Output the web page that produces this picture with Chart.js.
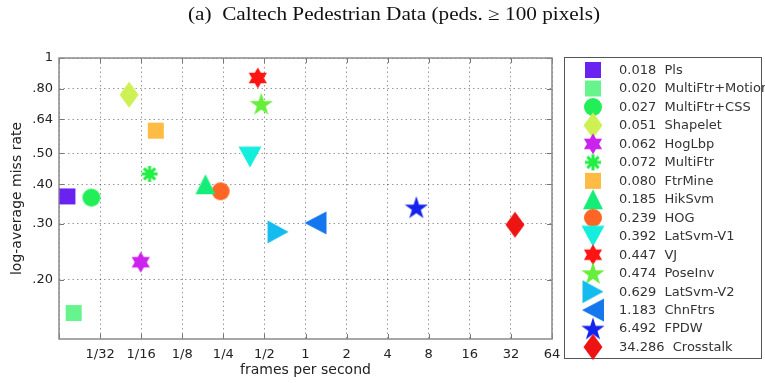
<!DOCTYPE html>
<html>
<head>
<meta charset="utf-8">
<script src="https://cdn.jsdelivr.net/npm/chart.js@4/dist/chart.umd.min.js"></script>
<style>
  html, body { margin: 0; padding: 0; background: #fff; }
</style>
</head>
<body>
<canvas id="myChart" width="765" height="383"></canvas>
<script>
// one entry per detector: name, speed (frames per second), log-average miss rate
const methods = ['Pls', 'MultiFtr+Motion', 'MultiFtr+CSS', 'Shapelet', 'HogLbp', 'MultiFtr',
    'FtrMine', 'HikSvm', 'HOG', 'LatSvm-V1', 'VJ', 'PoseInv', 'LatSvm-V2', 'ChnFtrs', 'FPDW', 'Crosstalk'];
const fps = [0.018, 0.020, 0.027, 0.051, 0.062, 0.072, 0.080, 0.185, 0.239, 0.392, 0.447, 0.474,
    0.629, 1.183, 6.492, 34.286];
const missRates = [0.366, 0.157, 0.363, 0.766, 0.227, 0.431, 0.59, 0.40, 0.38, 0.487, 0.865, 0.717,
    0.283, 0.302, 0.338, 0.298];
const markerShapes = ['square', 'square', 'circle', 'diamond', 'hexagram', 'asterisk', 'square', 'triUp',
    'circle', 'triDown', 'hexagram', 'pentagram', 'triRight', 'triLeft', 'pentagram', 'diamond'];
const markerColors = ['#6a22f0', '#66f58c', '#22ee58', '#cdf052', '#cc22ee', '#22ee44', '#ffbb44', '#14ee78',
    '#ff6626', '#14eedc', '#ff1414', '#66ee3a', '#14bbee', '#1477ee', '#1422ee', '#ee1414'];

const xTicks = [1/64, 1/32, 1/16, 1/8, 1/4, 1/2, 1, 2, 4, 8, 16, 32, 64];
const xTickLabels = ['', '1/32', '1/16', '1/8', '1/4', '1/2', '1', '2', '4', '8', '16', '32', '64'];
const yTicks = [0.2, 0.3, 0.4, 0.5, 0.64, 0.8, 1];
const yTickLabels = ['.20', '.30', '.40', '.50', '.64', '.80', '1'];

function starPath(g, points, outer, inner) {
    for (let k = 0; k < points * 2; k++) {
        const r = k % 2 === 0 ? outer : inner;
        const a = -Math.PI / 2 + k * Math.PI / points;
        const px = r * Math.cos(a), py = r * Math.sin(a);
        if (k === 0) g.moveTo(px, py); else g.lineTo(px, py);
    }
    g.closePath();
}

function makeMarker(shape, color) {
    const c = document.createElement('canvas');
    c.width = 30;
    c.height = 30;
    const g = c.getContext('2d');
    g.fillStyle = color;
    g.strokeStyle = color;
    g.translate(15, 15);
    g.beginPath();
    switch (shape) {
        case 'square': g.rect(-8, -8, 16, 16); break;
        case 'circle': g.arc(0, 0, 9, 0, Math.PI * 2); break;
        case 'diamond':
            g.moveTo(0, -13); g.lineTo(9.5, 0); g.lineTo(0, 13); g.lineTo(-9.5, 0); g.closePath(); break;
        case 'triUp':
            g.moveTo(0, -10); g.lineTo(10, 10); g.lineTo(-10, 10); g.closePath(); break;
        case 'triDown':
            g.moveTo(-11.5, -10.5); g.lineTo(11.5, -10.5); g.lineTo(0, 10.5); g.closePath(); break;
        case 'triRight':
            g.moveTo(-10.5, -11.5); g.lineTo(10.5, 0); g.lineTo(-10.5, 11.5); g.closePath(); break;
        case 'triLeft':
            g.moveTo(11, -11.5); g.lineTo(-11, 0); g.lineTo(11, 11.5); g.closePath(); break;
        case 'pentagram':
            g.translate(0, 1); starPath(g, 5, 12.2, 12.2 * 0.382); break;
        case 'hexagram':
            starPath(g, 6, 10.5, 10.5 / Math.sqrt(3)); break;
        case 'asterisk':
            g.lineWidth = 3;
            for (let k = 0; k < 4; k++) {
                const a = k * Math.PI / 4;
                g.moveTo(-8 * Math.cos(a), -8 * Math.sin(a));
                g.lineTo(8 * Math.cos(a), 8 * Math.sin(a));
            }
            g.stroke();
            return c;
    }
    g.fill();
    return c;
}

const markers = methods.map((m, i) => makeMarker(markerShapes[i], markerColors[i]));

const datasets = methods.map((m, i) => ({
    label: fps[i].toFixed(3) + '  ' + m,
    data: [{ x: fps[i], y: missRates[i] }],
    pointStyle: markers[i],
    pointRadius: 10,
    clip: false
}));

const decor = {
    id: 'decor',
    beforeDatasetsDraw(chart) {
        const { ctx, chartArea: a, scales: { x, y } } = chart;
        ctx.save();
        ctx.strokeStyle = '#777';
        ctx.lineWidth = 1;
        ctx.beginPath();
        xTicks.forEach(v => {
            const px = Math.round(x.getPixelForValue(v)) + 0.5;
            ctx.moveTo(px, a.bottom); ctx.lineTo(px, a.bottom - 5);
            ctx.moveTo(px, a.top); ctx.lineTo(px, a.top + 5);
        });
        yTicks.forEach(v => {
            const py = Math.round(y.getPixelForValue(v)) + 0.5;
            ctx.moveTo(a.left, py); ctx.lineTo(a.left + 5, py);
            ctx.moveTo(a.right, py); ctx.lineTo(a.right - 5, py);
        });
        ctx.stroke();
        ctx.strokeStyle = '#8a8a8a';
        ctx.lineWidth = 1.5;
        ctx.strokeRect(a.left, a.top, a.right - a.left, a.bottom - a.top);
        ctx.restore();
    },
    afterDraw(chart) {
        const ctx = chart.ctx;
        ctx.save();
        // title
        const title = '(a)  Caltech Pedestrian Data (peds. \u2265 100 pixels)';
        ctx.font = '18px "Liberation Serif"';
        ctx.fillStyle = '#111';
        ctx.textBaseline = 'alphabetic';
        ctx.textAlign = 'left';
        const w = ctx.measureText(title).width;
        const sx = 412 / w;
        ctx.save();
        ctx.translate(188, 20);
        ctx.scale(sx, 1);
        ctx.fillText(title, 0, 0);
        ctx.restore();
        // legend
        ctx.strokeStyle = '#555';
        ctx.lineWidth = 1;
        ctx.strokeRect(564.5, 57.5, 197, 301);
        ctx.font = '13px "DejaVu Sans"';
        ctx.fillStyle = '#333';
        ctx.textBaseline = 'middle';
        datasets.forEach((d, i) => {
            const cy = 70 + i * 18.47;
            ctx.drawImage(markers[i], 593 - 15, cy - 15);
            ctx.fillText(d.label, 619, cy + 0.5);
        });
        ctx.restore();
    }
};

const ctx = document.getElementById('myChart').getContext('2d');

new Chart(ctx, {
    type: 'scatter',
    data: { datasets: datasets },
    options: {
        responsive: false,
        animation: false,
        devicePixelRatio: 1,
        layout: { padding: { top: 58, right: 213, left: 0, bottom: 0 } },
        plugins: {
            legend: { display: false },
            tooltip: { enabled: false }
        },
        scales: {
            x: {
                type: 'logarithmic',
                min: 1/64,
                max: 64,
                bounds: 'data',
                afterBuildTicks: s => { s.ticks = xTicks.map(v => ({ value: v })); },
                afterFit: s => { s.height = 44; },
                ticks: {
                    callback: (v, i) => xTickLabels[i],
                    autoSkip: false,
                    maxRotation: 0,
                    padding: 8,
                    color: '#222',
                    font: { family: 'DejaVu Sans', size: 13 }
                },
                grid: { color: 'rgba(0,0,0,0.4)', lineWidth: 1, drawTicks: false },
                border: { display: false, dash: [1.5, 3] },
                title: {
                    display: true,
                    text: 'frames per second',
                    color: '#222',
                    font: { family: 'DejaVu Sans', size: 14 },
                    padding: { top: 0, bottom: 4 }
                }
            },
            y: {
                type: 'logarithmic',
                min: 0.13,
                max: 1,
                bounds: 'data',
                afterBuildTicks: s => { s.ticks = yTicks.map(v => ({ value: v })); },
                afterFit: s => { s.width = 59; },
                ticks: {
                    callback: (v, i) => yTickLabels[i],
                    autoSkip: false,
                    padding: 6,
                    color: '#222',
                    font: { family: 'DejaVu Sans', size: 13 }
                },
                grid: { color: 'rgba(0,0,0,0.4)', lineWidth: 1, drawTicks: false },
                border: { display: false, dash: [1.5, 3] },
                title: {
                    display: true,
                    text: 'log-average miss rate',
                    color: '#222',
                    font: { family: 'DejaVu Sans', size: 14 },
                    padding: { top: 9, bottom: 0 }
                }
            }
        }
    },
    plugins: [decor]
});
</script>
</body>
</html>
